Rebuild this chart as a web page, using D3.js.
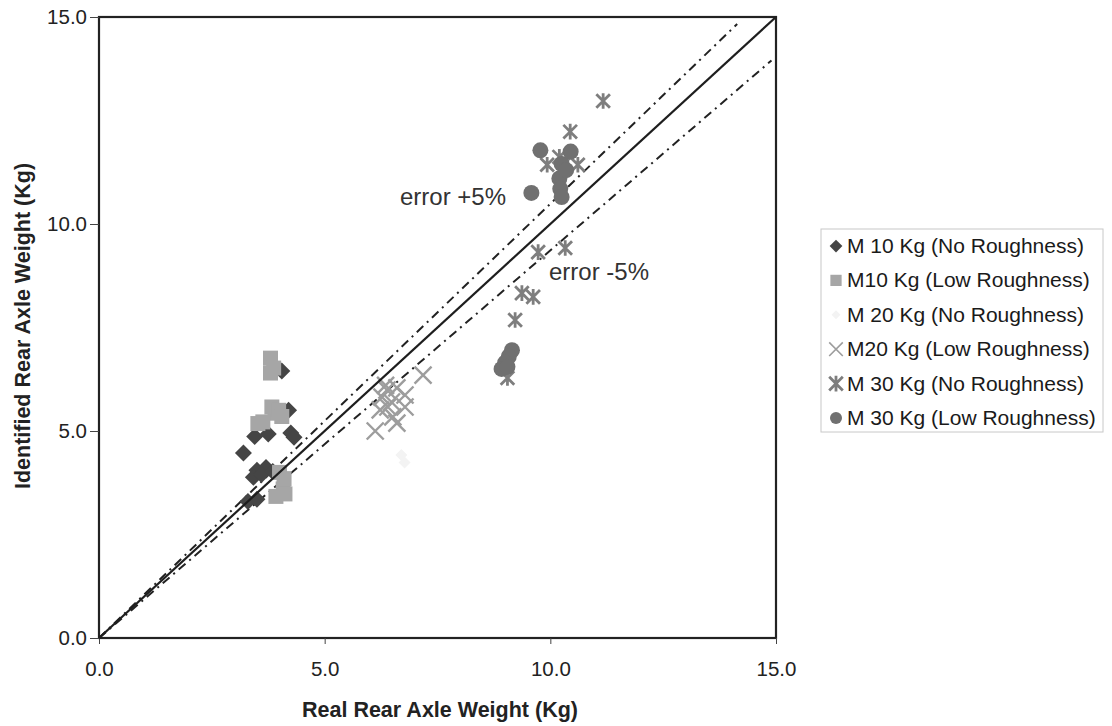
<!DOCTYPE html>
<html>
<head>
<meta charset="utf-8">
<script src="https://cdn.jsdelivr.net/npm/d3@7"></script>
<style>
  html, body { margin: 0; padding: 0; background: #fff; }
  svg { display: block; font-family: "Liberation Sans", Arial, sans-serif; }
</style>
</head>
<body>
<svg id="chart" width="1112" height="726"></svg>
<script>
// Series: [real, identified] rear axle weight in Kg
const m10None = [[3.2,4.47],[3.45,4.87],[3.75,4.93],[4.2,5.5],[4.25,4.95],[4.32,4.85],[3.5,4.05],[3.7,4.12],[3.42,3.88],[3.6,3.95],[3.3,3.3],[3.5,3.35],[3.85,4.02],[4.05,6.45]];
const m10Low = [[3.8,6.76],[3.87,6.52],[3.8,6.4],[3.9,5.43],[3.83,5.58],[3.63,5.22],[3.52,5.18],[3.98,5.5],[4.05,5.35],[4.0,4.0],[4.08,3.6],[3.92,3.42],[4.12,3.48],[4.1,3.85]];
const m20None = [[6.7,4.42],[6.77,4.24]];
const m20Low = [[7.18,6.35],[6.6,6.04],[6.78,5.87],[6.27,5.82],[6.4,5.58],[6.78,5.58],[6.23,5.51],[6.51,5.34],[6.6,5.19],[6.12,5.0],[6.38,5.99],[6.48,5.7],[6.35,6.1]];
const m30None = [[11.17,12.97],[10.44,12.23],[9.93,11.43],[10.61,11.43],[10.2,11.62],[10.35,11.5],[9.73,9.32],[10.33,9.42],[9.37,8.33],[9.62,8.24],[9.22,7.68],[9.05,6.28]];
const m30Low = [[9.78,11.78],[10.45,11.75],[9.58,10.75],[10.25,11.45],[10.2,11.1],[10.22,10.85],[10.25,10.65],[10.35,11.3],[9.15,6.95],[9.08,6.8],[9.0,6.65],[8.92,6.5],[9.05,6.55]];

const xTicks = [0, 5, 10, 15];
const yTicks = [0, 5, 10, 15];

// Reference lines: exact match and the ±5% error band
const lineExact = [[0,0],[15,15]];
const linePlus = [[0,0],[14.14,14.83]];
const lineMinus = [[0,0],[14.9,13.95]];

const legendLabels = ["M 10 Kg (No Roughness)","M10 Kg (Low Roughness)","M 20 Kg (No Roughness)","M20 Kg (Low Roughness)","M 30 Kg (No Roughness)","M 30 Kg (Low Roughness)"];

const svg = d3.select("#chart");
const plot = {left: 99, right: 776, top: 17, bottom: 638};

const x = d3.scaleLinear().domain([0, 15]).range([plot.left, plot.right]);
const y = d3.scaleLinear().domain([0, 15]).range([plot.bottom, plot.top]);

// Marker shapes
const sym = {
  diamond: (s) => `M0,${-s}L${s},0L0,${s}L${-s},0Z`,
  square: (s) => `M${-s},${-s}H${s}V${s}H${-s}Z`,
  cross: (s) => `M${-s},${-s}L${s},${s}M${-s},${s}L${s},${-s}`,
  star: (s) => `M${-s},${-s}L${s},${s}M${-s},${s}L${s},${-s}M0,${-s*1.15}V${s*1.15}`,
  circle: (s) => `M${s},0A${s},${s} 0 1,1 ${-s},0A${s},${s} 0 1,1 ${s},0Z`
};

const series = [
  {data: m10None, shape: "diamond", size: 8.5, fill: "#454545", stroke: "none", sw: 0},
  {data: m10Low, shape: "square", size: 7.5, fill: "#a6a6a6", stroke: "none", sw: 0},
  {data: m20None, shape: "diamond", size: 6, fill: "#f3f3f3", stroke: "none", sw: 0},
  {data: m20Low, shape: "cross", size: 8.5, fill: "none", stroke: "#9d9d9d", sw: 2.4},
  {data: m30None, shape: "star", size: 6.8, fill: "none", stroke: "#7e7e7e", sw: 2.8},
  {data: m30Low, shape: "circle", size: 8, fill: "#707070", stroke: "none", sw: 0}
];

// Plot frame
svg.append("rect")
  .attr("x", plot.left).attr("y", plot.top)
  .attr("width", plot.right - plot.left).attr("height", plot.bottom - plot.top)
  .attr("fill", "none").attr("stroke", "#222").attr("stroke-width", 2.2);

// Axes
const xAxis = svg.append("g").attr("transform", `translate(0,${plot.bottom})`)
  .call(d3.axisBottom(x).tickValues(xTicks).tickFormat(d3.format(".1f")).tickSize(6).tickPadding(17));
const yAxis = svg.append("g").attr("transform", `translate(${plot.left},0)`)
  .call(d3.axisLeft(y).tickValues(yTicks).tickFormat(d3.format(".1f")).tickSize(9).tickPadding(3));
[xAxis, yAxis].forEach(g => {
  g.select(".domain").remove();
  g.selectAll(".tick line").attr("stroke", "#444").attr("stroke-width", 1);
  g.selectAll(".tick text").attr("fill", "#222").style("font-size", "20.5px")
    .style("font-family", "'Liberation Sans', Arial, sans-serif");
});

// Reference lines
const line = d3.line().x(d => x(d[0])).y(d => y(d[1]));
svg.append("path").datum(linePlus).attr("d", line)
  .attr("fill", "none").attr("stroke", "#222").attr("stroke-width", 2).attr("stroke-dasharray", "9,5,2,5");
svg.append("path").datum(lineMinus).attr("d", line)
  .attr("fill", "none").attr("stroke", "#222").attr("stroke-width", 2).attr("stroke-dasharray", "9,5,2,5");

// Data markers
series.forEach(s => {
  svg.append("g").selectAll("path").data(s.data).join("path")
    .attr("transform", d => `translate(${x(d[0])},${y(d[1])})`)
    .attr("d", sym[s.shape](s.size))
    .attr("fill", s.fill).attr("stroke", s.stroke).attr("stroke-width", s.sw);
});

svg.append("path").datum(lineExact).attr("d", line)
  .attr("fill", "none").attr("stroke", "#1e1e1e").attr("stroke-width", 2.2);

// Annotations
svg.append("text").attr("x", 400).attr("y", 205).text("error +5%")
  .attr("fill", "#333").style("font-size", "24px");
svg.append("text").attr("x", 549).attr("y", 280).text("error -5%")
  .attr("fill", "#333").style("font-size", "24px");

// Axis titles
svg.append("text").attr("x", 440).attr("y", 717).attr("text-anchor", "middle")
  .text("Real Rear Axle Weight (Kg)").attr("fill", "#222")
  .style("font-size", "21.5px").style("font-weight", "bold");
svg.append("text").attr("transform", "translate(30,326) rotate(-90)").attr("text-anchor", "middle")
  .text("Identified Rear Axle Weight (Kg)").attr("fill", "#222")
  .style("font-size", "21.5px").style("font-weight", "bold");

// Legend
const legend = svg.append("g");
legend.append("rect").attr("x", 821).attr("y", 229).attr("width", 282).attr("height", 203)
  .attr("fill", "#fff").attr("stroke", "#c8c8c8").attr("stroke-width", 1);
const ly = d3.scalePoint().domain(legendLabels).range([246, 418]);
series.forEach((s, i) => {
  const cy = ly(legendLabels[i]);
  const scale = s.shape === "cross" ? 0.8 : (s.shape === "star" ? 1.0 : 0.75);
  legend.append("path")
    .attr("transform", `translate(836,${cy})`)
    .attr("d", sym[s.shape](s.size * scale))
    .attr("fill", s.fill).attr("stroke", s.stroke).attr("stroke-width", s.shape === "cross" ? 1.6 : s.sw);
  legend.append("text").attr("x", 847).attr("y", cy + 7).text(legendLabels[i])
    .attr("fill", "#1a1a1a").style("font-size", "21px");
});
</script>
</body>
</html>
